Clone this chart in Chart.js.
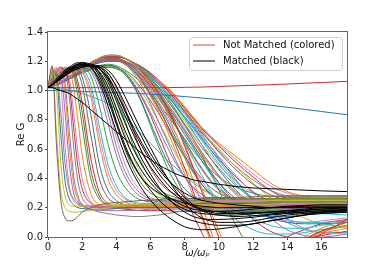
<!DOCTYPE html>
<html>
<head>
<meta charset="utf-8">
<script src="https://cdn.jsdelivr.net/npm/chart.js@4.4.0/dist/chart.umd.min.js"></script>
<style>
  html, body { margin: 0; padding: 0; background: #fff; }
</style>
</head>
<body>
<canvas id="chart" width="386" height="267"></canvas>
<script>
// sample positions (omega / omega_p) shared by every curve
const xGrid = [0,0.25,0.5,0.75,1,1.25,1.5,1.75,2,2.5,3,3.5,4,4.5,5,5.5,6,6.5,7,7.5,8,8.5,9,9.5,10,11,12,13,14,15,16,17.5];
const xTicks = [0,2,4,6,8,10,12,14,16];
const yTicks = [0,0.2,0.4,0.6,0.8,1.0,1.2,1.4];
const legendLabels = ['Not Matched (colored)', 'Matched (black)'];

// not matched, early drop
const earlyCurves = [
  [1.02,1.17,0.62,0.25,0.13,0.11,0.115,0.14,0.17,0.2,0.22,0.23,0.235, 0.24,0.245,0.25,0.25,0.255,0.26,0.26,0.26,0.265,0.265,0.27,0.27,0.27,0.275,0.275,0.28,0.28,0.28,0.28],
  [1.02,1.16,0.7,0.32,0.2,0.175,0.17,0.17,0.175,0.18,0.19,0.2,0.21, 0.21,0.22,0.22,0.22,0.23,0.23,0.23,0.23,0.23,0.24,0.24,0.24,0.24,0.24,0.25,0.25,0.25,0.25,0.25],
  [1.02,1.14,1.0,0.5,0.28,0.22,0.21,0.21,0.21,0.215,0.22,0.22,0.22, 0.22,0.22,0.22,0.22,0.22,0.22,0.22,0.22,0.22,0.22,0.22,0.22,0.22,0.225,0.225,0.23,0.23,0.23,0.23],
  [1.02,1.14,1.12,0.85,0.5,0.32,0.26,0.23,0.21,0.19,0.17,0.16,0.15, 0.145,0.14,0.14,0.145,0.15,0.16,0.17,0.18,0.185,0.19,0.195,0.2,0.205,0.21,0.21,0.215,0.215,0.22,0.22],
  [1.02,1.13,1.1,0.7,0.38,0.26,0.22,0.2,0.195,0.19,0.19,0.19,0.195, 0.2,0.2,0.2,0.2,0.2,0.2,0.2,0.2,0.2,0.2,0.2,0.2,0.2,0.2,0.2,0.2,0.2,0.2,0.2],
  [1.02,1.12,1.16,1.05,0.62,0.35,0.25,0.22,0.21,0.21,0.21,0.21,0.215, 0.22,0.22,0.225,0.23,0.23,0.235,0.24,0.24,0.24,0.245,0.245,0.25,0.25,0.25,0.25,0.25,0.25,0.25,0.25],
  [1.02,1.1,1.15,1.12,0.85,0.5,0.3,0.24,0.22,0.21,0.2,0.2,0.2, 0.2,0.2,0.2,0.2,0.2,0.2,0.2,0.2,0.2,0.2,0.2,0.2,0.2,0.2,0.2,0.2,0.2,0.2,0.2],
  [1.02,1.09,1.14,1.15,0.98,0.62,0.36,0.26,0.22,0.2,0.2,0.2,0.2, 0.2,0.21,0.21,0.21,0.21,0.21,0.21,0.21,0.21,0.21,0.21,0.21,0.21,0.21,0.21,0.21,0.21,0.21,0.21],
  [1.02,1.09,1.14,1.16,1.05,0.72,0.42,0.28,0.22,0.19,0.18,0.18,0.18, 0.18,0.18,0.185,0.19,0.19,0.19,0.19,0.19,0.19,0.19,0.19,0.19,0.19,0.19,0.19,0.19,0.19,0.19,0.19],
  [1.02,1.08,1.13,1.16,1.13,0.95,0.62,0.38,0.27,0.21,0.2,0.2,0.2, 0.205,0.21,0.215,0.22,0.22,0.225,0.23,0.23,0.23,0.235,0.235,0.24,0.24,0.24,0.24,0.24,0.24,0.24,0.24],
  [1.02,1.07,1.12,1.15,1.14,1.03,0.75,0.48,0.33,0.23,0.21,0.21,0.21, 0.21,0.215,0.22,0.22,0.22,0.225,0.225,0.23,0.23,0.23,0.23,0.23,0.23,0.23,0.23,0.23,0.23,0.23,0.23],
  [1.02,1.07,1.12,1.15,1.15,1.08,0.85,0.58,0.4,0.24,0.21,0.21,0.21, 0.21,0.21,0.21,0.215,0.22,0.22,0.22,0.22,0.22,0.22,0.22,0.22,0.22,0.22,0.22,0.22,0.22,0.22,0.22],
  [1.02,1.07,1.11,1.14,1.16,1.14,1.02,0.8,0.56,0.3,0.22,0.2,0.195, 0.195,0.2,0.2,0.2,0.205,0.21,0.21,0.21,0.21,0.21,0.21,0.21,0.21,0.21,0.21,0.21,0.21,0.21,0.21],
  [1.02,1.06,1.1,1.13,1.15,1.15,1.1,0.96,0.76,0.4,0.26,0.22,0.21, 0.21,0.21,0.21,0.22,0.22,0.22,0.225,0.23,0.23,0.23,0.23,0.23,0.235,0.235,0.24,0.24,0.24,0.24,0.24],
  [1.02,1.06,1.1,1.13,1.15,1.16,1.12,1.02,0.85,0.46,0.28,0.22,0.2, 0.2,0.2,0.2,0.2,0.2,0.2,0.2,0.2,0.2,0.2,0.2,0.2,0.2,0.2,0.2,0.2,0.2,0.2,0.2],
  [1.02,1.06,1.1,1.13,1.15,1.16,1.14,1.06,0.92,0.54,0.31,0.23,0.2, 0.19,0.185,0.18,0.18,0.18,0.18,0.175,0.175,0.175,0.175,0.175,0.175,0.175,0.175,0.175,0.175,0.175,0.175,0.175],
  [1.02,1.06,1.09,1.12,1.14,1.15,1.15,1.12,1.04,0.7,0.4,0.27,0.23, 0.22,0.22,0.22,0.22,0.22,0.22,0.22,0.22,0.22,0.22,0.22,0.22,0.22,0.22,0.22,0.22,0.22,0.22,0.22],
  [1.02,1.05,1.09,1.12,1.14,1.15,1.16,1.14,1.09,0.84,0.5,0.32,0.25, 0.22,0.21,0.21,0.21,0.21,0.21,0.21,0.21,0.21,0.21,0.21,0.21,0.21,0.21,0.21,0.21,0.21,0.21,0.21],
  [1.02,1.05,1.08,1.11,1.13,1.15,1.16,1.16,1.13,0.96,0.64,0.4,0.29, 0.24,0.22,0.21,0.21,0.21,0.21,0.21,0.215,0.22,0.22,0.22,0.22,0.22,0.22,0.22,0.22,0.22,0.22,0.22],
  [1.02,1.05,1.08,1.11,1.13,1.14,1.15,1.16,1.14,1.0,0.7,0.45,0.32, 0.26,0.23,0.22,0.22,0.22,0.22,0.22,0.22,0.22,0.22,0.22,0.22,0.22,0.22,0.22,0.22,0.22,0.22,0.22],
  [1.02,1.05,1.08,1.1,1.12,1.14,1.15,1.16,1.15,1.04,0.76,0.5,0.35, 0.27,0.24,0.23,0.23,0.23,0.23,0.23,0.23,0.23,0.23,0.23,0.23,0.23,0.23,0.23,0.23,0.23,0.23,0.23],
  [1.02,1.05,1.08,1.1,1.12,1.14,1.15,1.16,1.16,1.1,0.9,0.64,0.45, 0.34,0.28,0.25,0.24,0.23,0.23,0.23,0.23,0.23,0.23,0.23,0.23,0.23,0.23,0.23,0.23,0.23,0.23,0.23],
  [1.02,1.04,1.07,1.1,1.12,1.13,1.15,1.16,1.16,1.13,1.0,0.78,0.56, 0.41,0.32,0.27,0.25,0.24,0.24,0.24,0.24,0.24,0.24,0.24,0.24,0.24,0.24,0.24,0.24,0.24,0.24,0.24],
  [1.02,1.04,1.07,1.09,1.11,1.13,1.14,1.15,1.16,1.14,1.04,0.85,0.62, 0.45,0.35,0.29,0.26,0.25,0.25,0.25,0.25,0.25,0.25,0.25,0.25,0.25,0.25,0.25,0.25,0.25,0.25,0.25],
  [1.02,1.04,1.07,1.09,1.11,1.13,1.14,1.15,1.16,1.15,1.07,0.9,0.68, 0.5,0.38,0.31,0.27,0.25,0.24,0.23,0.23,0.23,0.23,0.23,0.23,0.23,0.23,0.23,0.23,0.23,0.23,0.23],
  [1.02,1.04,1.07,1.09,1.11,1.13,1.14,1.15,1.16,1.16,1.11,0.98,0.79, 0.6,0.46,0.36,0.3,0.27,0.26,0.25,0.25,0.25,0.25,0.25,0.25,0.25,0.25,0.25,0.25,0.25,0.25,0.25],
  [1.02,1.04,1.06,1.09,1.11,1.12,1.14,1.15,1.16,1.16,1.13,1.04,0.88, 0.7,0.54,0.42,0.34,0.29,0.26,0.25,0.24,0.24,0.24,0.24,0.24,0.24,0.24,0.24,0.24,0.24,0.24,0.24],
  [1.02,1.04,1.06,1.08,1.1,1.12,1.13,1.14,1.15,1.16,1.15,1.08,0.95, 0.8,0.62,0.5,0.4,0.33,0.29,0.27,0.26,0.26,0.26,0.26,0.26,0.26,0.26,0.26,0.26,0.26,0.26,0.26],
  [1.02,1.04,1.06,1.08,1.1,1.12,1.13,1.14,1.15,1.16,1.16,1.12,1.02, 0.88,0.72,0.58,0.47,0.38,0.32,0.29,0.27,0.26,0.26,0.26,0.26,0.26,0.26,0.26,0.26,0.26,0.26,0.26]
];
const earlyColors = ['#8c564b','#bcbd22','#bcbd22','#7f7f7f','#1f77b4','#e377c2','#9467bd','#ff7f0e','#9467bd','#7f7f7f','#d62728','#e377c2','#ff7f0e','#2ca02c','#8c564b','#d62728','#8c564b','#1f77b4','#ff7f0e','#e377c2','#17becf','#2ca02c','#9467bd','#7f7f7f','#e377c2','#2ca02c','#bcbd22','#2ca02c','#d62728'];

// not matched, late drop
const lateCurves = [
  [1.02,1.03,1.04,1.05,1.07,1.08,1.1,1.11,1.13,1.15,1.17,1.17,1.16, 1.12,1.04,0.92,0.78,0.64,0.51,0.41,0.33,0.28,0.25,0.23,0.22,0.21,0.21,0.21,0.21,0.21,0.21,0.21],
  [1.02,1.03,1.04,1.05,1.06,1.08,1.09,1.11,1.12,1.14,1.16,1.16,1.15, 1.11,1.03,0.91,0.76,0.61,0.47,0.36,0.28,0.23,0.2,0.19,0.18,0.18,0.18,0.18,0.18,0.18,0.18,0.18],
  [1.02,1.03,1.04,1.06,1.07,1.09,1.1,1.12,1.14,1.17,1.2,1.21,1.21, 1.18,1.12,1.03,0.91,0.78,0.65,0.52,0.41,0.33,0.27,0.24,0.23,0.23,0.24,0.24,0.25,0.25,0.25,0.25],
  [1.02,1.03,1.04,1.06,1.07,1.09,1.1,1.12,1.14,1.17,1.2,1.21,1.21, 1.19,1.14,1.07,0.98,0.88,0.76,0.62,0.47,0.31,0.15,0.0,-0.13,-0.3,-0.3,-0.2,-0.1,-0.02,0.04,0.1],
  [1.02,1.03,1.05,1.06,1.08,1.1,1.11,1.13,1.15,1.19,1.22,1.24,1.24, 1.22,1.18,1.12,1.04,0.95,0.84,0.7,0.55,0.39,0.22,0.05,-0.1,-0.3,-0.35,-0.25,-0.12,-0.03,0.03,0.08],
  [1.02,1.03,1.05,1.06,1.08,1.1,1.11,1.13,1.15,1.19,1.22,1.23,1.23, 1.22,1.18,1.13,1.06,0.98,0.88,0.76,0.62,0.47,0.31,0.15,0.0,-0.25,-0.35,-0.3,-0.15,-0.05,0.02,0.12],
  [1.02,1.03,1.04,1.06,1.07,1.09,1.1,1.12,1.14,1.17,1.2,1.21,1.21, 1.19,1.15,1.09,1.01,0.92,0.81,0.7,0.58,0.47,0.38,0.31,0.26,0.2,0.17,0.16,0.16,0.17,0.18,0.19],
  [1.02,1.03,1.04,1.05,1.07,1.09,1.1,1.12,1.14,1.17,1.2,1.22,1.22, 1.2,1.16,1.1,1.03,0.95,0.86,0.76,0.66,0.56,0.47,0.39,0.33,0.25,0.21,0.2,0.2,0.2,0.2,0.2],
  [1.02,1.03,1.05,1.06,1.08,1.1,1.11,1.13,1.15,1.19,1.22,1.24,1.24, 1.22,1.18,1.13,1.07,0.99,0.91,0.82,0.72,0.62,0.52,0.43,0.35,0.22,0.13,0.08,0.06,0.06,0.08,0.1],
  [1.02,1.03,1.04,1.05,1.07,1.08,1.1,1.11,1.13,1.15,1.16,1.16,1.15, 1.13,1.07,0.99,0.89,0.78,0.67,0.56,0.47,0.39,0.33,0.29,0.27,0.26,0.26,0.26,0.26,0.26,0.26,0.26],
  [1.02,1.03,1.04,1.06,1.07,1.09,1.1,1.12,1.14,1.17,1.19,1.2,1.2, 1.19,1.15,1.1,1.03,0.96,0.88,0.79,0.7,0.61,0.52,0.44,0.37,0.26,0.18,0.13,0.1,0.09,0.09,0.1],
  [1.02,1.03,1.05,1.06,1.08,1.1,1.11,1.13,1.15,1.19,1.22,1.23,1.23, 1.22,1.19,1.14,1.08,1.01,0.93,0.85,0.76,0.67,0.58,0.5,0.42,0.3,0.22,0.18,0.16,0.16,0.17,0.18],
  [1.02,1.03,1.04,1.06,1.07,1.09,1.1,1.12,1.14,1.17,1.2,1.21,1.22, 1.2,1.16,1.11,1.05,0.98,0.9,0.82,0.73,0.65,0.57,0.49,0.42,0.31,0.24,0.21,0.2,0.2,0.21,0.22],
  [1.02,1.03,1.05,1.06,1.08,1.1,1.11,1.13,1.15,1.19,1.22,1.24,1.24, 1.22,1.19,1.15,1.09,1.02,0.95,0.86,0.77,0.67,0.56,0.44,0.32,0.08,-0.1,-0.15,-0.1,-0.02,0.04,0.08],
  [1.02,1.03,1.04,1.06,1.07,1.09,1.1,1.12,1.14,1.17,1.2,1.22,1.22, 1.2,1.17,1.12,1.06,1.0,0.93,0.85,0.77,0.69,0.61,0.54,0.47,0.35,0.27,0.23,0.22,0.22,0.22,0.23],
  [1.02,1.03,1.05,1.06,1.08,1.1,1.11,1.13,1.15,1.19,1.22,1.23,1.24, 1.22,1.19,1.15,1.1,1.04,0.97,0.9,0.82,0.74,0.66,0.58,0.5,0.36,0.25,0.17,0.12,0.1,0.1,0.11],
  [1.02,1.03,1.04,1.05,1.07,1.08,1.1,1.11,1.13,1.15,1.17,1.18,1.17, 1.14,1.1,1.05,0.98,0.91,0.83,0.75,0.67,0.59,0.52,0.46,0.41,0.34,0.3,0.28,0.28,0.28,0.28,0.28],
  [1.02,1.03,1.05,1.06,1.08,1.1,1.11,1.13,1.15,1.19,1.22,1.24,1.24, 1.22,1.19,1.15,1.1,1.05,0.99,0.92,0.85,0.77,0.69,0.62,0.55,0.42,0.3,0.2,0.12,0.06,0.03,0.02],
  [1.02,1.03,1.04,1.06,1.07,1.09,1.1,1.12,1.14,1.17,1.2,1.21,1.21, 1.2,1.17,1.13,1.08,1.02,0.96,0.89,0.82,0.75,0.67,0.6,0.53,0.41,0.31,0.24,0.2,0.18,0.17,0.17],
  [1.02,1.03,1.05,1.06,1.08,1.1,1.11,1.13,1.15,1.18,1.21,1.23,1.23, 1.22,1.19,1.16,1.11,1.05,1.0,0.93,0.86,0.79,0.72,0.65,0.58,0.46,0.36,0.29,0.25,0.24,0.24,0.24],
  [1.02,1.03,1.05,1.06,1.08,1.1,1.11,1.13,1.15,1.19,1.22,1.24,1.24, 1.22,1.19,1.16,1.11,1.06,1.0,0.94,0.87,0.8,0.73,0.66,0.6,0.48,0.37,0.27,0.19,0.13,0.09,0.07],
  [1.02,1.03,1.04,1.06,1.07,1.09,1.1,1.12,1.14,1.17,1.2,1.21,1.21, 1.2,1.17,1.14,1.09,1.04,0.98,0.92,0.85,0.78,0.71,0.65,0.59,0.48,0.39,0.32,0.28,0.26,0.26,0.26],
  [1.02,1.03,1.05,1.06,1.08,1.1,1.11,1.13,1.15,1.19,1.22,1.24,1.24, 1.22,1.19,1.16,1.12,1.06,1.01,0.95,0.88,0.81,0.74,0.68,0.62,0.51,0.41,0.32,0.26,0.22,0.2,0.2],
  [1.02,1.03,1.05,1.06,1.08,1.1,1.11,1.13,1.15,1.19,1.22,1.24,1.24, 1.22,1.19,1.16,1.12,1.07,1.01,0.95,0.88,0.81,0.75,0.69,0.63,0.53,0.43,0.35,0.3,0.28,0.28,0.28],
  [1.02,1.03,1.05,1.06,1.08,1.1,1.11,1.13,1.15,1.19,1.22,1.24,1.24, 1.22,1.19,1.16,1.12,1.07,1.02,0.96,0.89,0.82,0.75,0.69,0.64,0.55,0.46,0.37,0.31,0.28,0.27,0.27],
  [1.02,1.03,1.04,1.06,1.07,1.09,1.1,1.12,1.14,1.17,1.2,1.21,1.21, 1.19,1.14,1.06,0.96,0.85,0.72,0.58,0.43,0.28,0.13,-0.02,-0.15,-0.3,-0.3,-0.22,-0.1,0.0,0.06,0.12],
  [1.02,1.03,1.04,1.05,1.07,1.08,1.1,1.11,1.13,1.15,1.17,1.17,1.16, 1.12,1.05,0.96,0.85,0.73,0.61,0.5,0.41,0.34,0.29,0.26,0.25,0.25,0.26,0.26,0.27,0.27,0.27,0.27],
  [1.02,1.03,1.04,1.06,1.07,1.09,1.1,1.12,1.14,1.17,1.2,1.21,1.21, 1.19,1.15,1.08,1.0,0.9,0.79,0.67,0.56,0.45,0.36,0.29,0.24,0.18,0.15,0.14,0.14,0.15,0.16,0.17],
  [1.02,1.03,1.05,1.06,1.08,1.1,1.11,1.13,1.15,1.19,1.22,1.23,1.23, 1.22,1.18,1.13,1.06,0.97,0.87,0.76,0.64,0.53,0.42,0.32,0.24,0.12,0.05,0.02,0.02,0.03,0.05,0.07],
  [1.02,1.03,1.04,1.06,1.07,1.09,1.1,1.12,1.14,1.17,1.2,1.22,1.22, 1.2,1.16,1.11,1.04,0.97,0.89,0.81,0.72,0.63,0.54,0.45,0.37,0.23,0.12,0.04,0.0,-0.01,0.01,0.04],
  [1.02,1.03,1.04,1.06,1.07,1.09,1.1,1.12,1.14,1.17,1.19,1.2,1.2, 1.18,1.13,1.06,0.97,0.87,0.76,0.65,0.54,0.44,0.36,0.3,0.26,0.22,0.21,0.21,0.22,0.23,0.24,0.25],
  [1.02,1.03,1.05,1.06,1.08,1.1,1.11,1.13,1.15,1.18,1.21,1.23,1.23, 1.22,1.19,1.14,1.07,0.99,0.89,0.77,0.63,0.48,0.33,0.18,0.04,-0.2,-0.3,-0.25,-0.12,-0.04,0.02,0.06],
  [1.02,1.03,1.04,1.05,1.06,1.08,1.09,1.11,1.12,1.14,1.16,1.16,1.15, 1.13,1.08,1.01,0.93,0.84,0.74,0.64,0.55,0.47,0.4,0.34,0.3,0.25,0.23,0.22,0.22,0.22,0.22,0.22],
  [1.02,1.03,1.04,1.06,1.07,1.09,1.1,1.12,1.14,1.17,1.2,1.22,1.22, 1.2,1.17,1.12,1.06,0.99,0.91,0.83,0.74,0.65,0.56,0.48,0.41,0.29,0.2,0.14,0.11,0.1,0.11,0.13],
  [1.02,1.03,1.05,1.06,1.08,1.1,1.11,1.13,1.15,1.19,1.22,1.24,1.24, 1.22,1.19,1.15,1.1,1.04,0.98,0.91,0.84,0.76,0.68,0.6,0.52,0.38,0.26,0.17,0.1,0.05,0.03,0.03],
  [1.02,1.03,1.04,1.06,1.07,1.09,1.1,1.12,1.14,1.17,1.2,1.21,1.21, 1.2,1.17,1.13,1.07,1.01,0.94,0.87,0.79,0.71,0.63,0.56,0.49,0.38,0.3,0.25,0.23,0.23,0.24,0.25],
  [1.02,1.03,1.05,1.06,1.08,1.1,1.11,1.13,1.15,1.19,1.22,1.23,1.24, 1.22,1.19,1.16,1.11,1.06,1.0,0.93,0.86,0.78,0.7,0.62,0.54,0.39,0.25,0.13,0.05,0.01,0.0,0.02],
  [1.02,1.03,1.04,1.05,1.07,1.08,1.1,1.11,1.13,1.15,1.17,1.17,1.16, 1.12,1.05,0.95,0.83,0.69,0.55,0.41,0.28,0.15,0.03,-0.08,-0.15,-0.2,-0.15,-0.08,0.0,0.05,0.09,0.12],
  [1.02,1.03,1.04,1.06,1.07,1.09,1.1,1.12,1.14,1.17,1.2,1.21,1.21, 1.19,1.15,1.09,1.02,0.94,0.85,0.75,0.65,0.55,0.46,0.38,0.32,0.24,0.2,0.19,0.19,0.2,0.21,0.22],
  [1.02,1.03,1.05,1.06,1.08,1.1,1.11,1.13,1.15,1.19,1.22,1.24,1.24, 1.22,1.19,1.15,1.1,1.04,0.97,0.89,0.81,0.72,0.63,0.54,0.46,0.32,0.22,0.16,0.14,0.15,0.17,0.19]
];
const lateColors = ['#1f77b4','#2ca02c','#9467bd','#d62728','#ff7f0e','#d62728','#e377c2','#8c564b','#17becf','#bcbd22','#1f77b4','#7f7f7f','#ff7f0e','#2ca02c','#9467bd','#17becf','#2ca02c','#e377c2','#1f77b4','#8c564b','#bcbd22','#7f7f7f','#d62728','#e377c2','#ff7f0e','#ff7f0e','#9467bd','#1f77b4','#17becf','#d62728','#2ca02c','#ff7f0e','#8c564b','#e377c2','#17becf','#bcbd22','#9467bd','#d62728','#7f7f7f','#1f77b4'];

// not matched, nearly flat ones
const redFlat  = [1.02,1.02,1.02,1.02,1.02,1.02,1.02,1.02,1.02,1.02,1.02,1.02,1.02, 1.02,1.02,1.02,1.02,1.02,1.02,1.021,1.022,1.023,1.024,1.026,1.028,1.032,1.036,1.04,1.045,1.05,1.055,1.063];
const blueSlow = [1.0,1.0,1.0,1.0,0.998,0.997,0.996,0.995,0.994,0.992,0.99,0.988,0.986, 0.984,0.982,0.979,0.976,0.972,0.968,0.964,0.959,0.954,0.949,0.944,0.939,0.927,0.914,0.9,0.886,0.872,0.857,0.835];
const cyanSlow = [1.02,1.02,1.02,1.01,1.01,1.0,1.0,0.99,0.98,0.96,0.94,0.91,0.87, 0.82,0.76,0.7,0.64,0.58,0.52,0.47,0.42,0.37,0.33,0.3,0.27,0.23,0.2,0.18,0.17,0.16,0.16,0.15];

// matched
const blackCurves = [
  [1.02,1.02,1.01,1.0,0.99,0.98,0.96,0.94,0.92,0.87,0.82,0.77,0.72, 0.67,0.62,0.57,0.53,0.49,0.46,0.43,0.41,0.39,0.38,0.37,0.36,0.345,0.335,0.33,0.325,0.32,0.315,0.31],
  [1.02,1.04,1.07,1.1,1.13,1.15,1.17,1.18,1.19,1.16,1.06,0.9,0.72, 0.56,0.43,0.33,0.25,0.19,0.14,0.1,0.07,0.055,0.05,0.05,0.055,0.07,0.09,0.11,0.13,0.15,0.16,0.17],
  [1.02,1.04,1.07,1.1,1.12,1.14,1.16,1.18,1.18,1.17,1.1,0.96,0.79, 0.63,0.5,0.4,0.32,0.25,0.2,0.16,0.13,0.11,0.095,0.085,0.08,0.08,0.09,0.11,0.13,0.15,0.17,0.19],
  [1.02,1.04,1.06,1.09,1.12,1.14,1.16,1.17,1.18,1.17,1.12,1.0,0.84, 0.68,0.55,0.45,0.37,0.31,0.26,0.22,0.19,0.17,0.16,0.155,0.15,0.15,0.16,0.17,0.18,0.19,0.2,0.2],
  [1.02,1.04,1.07,1.1,1.13,1.15,1.17,1.18,1.19,1.18,1.13,1.03,0.88, 0.73,0.6,0.49,0.4,0.33,0.28,0.24,0.21,0.19,0.18,0.175,0.175,0.18,0.19,0.2,0.21,0.215,0.22,0.22],
  [1.02,1.04,1.06,1.09,1.12,1.14,1.16,1.17,1.18,1.18,1.15,1.06,0.93, 0.78,0.65,0.53,0.43,0.34,0.27,0.21,0.17,0.14,0.125,0.12,0.12,0.125,0.135,0.15,0.16,0.17,0.18,0.18],
  [1.02,1.04,1.06,1.09,1.11,1.13,1.15,1.16,1.17,1.17,1.15,1.08,0.96, 0.83,0.7,0.58,0.48,0.4,0.33,0.28,0.24,0.21,0.19,0.18,0.17,0.165,0.165,0.165,0.165,0.17,0.17,0.17],
  [1.02,1.04,1.06,1.08,1.11,1.13,1.15,1.16,1.17,1.17,1.16,1.1,0.99, 0.86,0.73,0.62,0.52,0.43,0.36,0.3,0.25,0.21,0.18,0.16,0.15,0.14,0.145,0.155,0.17,0.18,0.19,0.2],
  [1.02,1.04,1.06,1.08,1.1,1.12,1.14,1.15,1.16,1.17,1.16,1.12,1.03, 0.91,0.79,0.68,0.57,0.48,0.4,0.33,0.27,0.22,0.19,0.17,0.16,0.16,0.165,0.17,0.18,0.185,0.19,0.19],
  [1.02,1.04,1.06,1.08,1.1,1.12,1.14,1.15,1.16,1.17,1.17,1.14,1.07, 0.96,0.84,0.72,0.61,0.5,0.4,0.31,0.23,0.17,0.13,0.11,0.1,0.1,0.11,0.13,0.15,0.16,0.17,0.18],
  [1.02,1.05,1.08,1.11,1.14,1.16,1.18,1.19,1.19,1.16,1.08,0.94,0.77, 0.61,0.49,0.4,0.34,0.3,0.27,0.25,0.23,0.22,0.21,0.205,0.2,0.2,0.2,0.2,0.205,0.21,0.21,0.21],
  [1.02,1.04,1.06,1.08,1.11,1.13,1.15,1.16,1.17,1.17,1.15,1.09,0.99, 0.87,0.75,0.64,0.54,0.46,0.39,0.34,0.3,0.27,0.25,0.24,0.23,0.22,0.21,0.2,0.2,0.2,0.2,0.2]
];

function toPoints(values) {
  return values.slice(0, xGrid.length).map((v, i) => ({ x: xGrid[i], y: v }));
}

function lineSet(values, color, width, order) {
  return {
    data: toPoints(values),
    borderColor: color,
    borderWidth: width,
    pointRadius: 0,
    fill: false,
    order: order
  };
}

const datasets = [];
earlyCurves.forEach((c, i) => datasets.push(lineSet(c, earlyColors[i % earlyColors.length], 1, 2)));
lateCurves.forEach((c, i) => datasets.push(lineSet(c, lateColors[i % lateColors.length], 1, 2)));
datasets.push(lineSet(cyanSlow, '#17becf', 1, 2));
datasets.push(lineSet(blueSlow, '#1f77b4', 1, 1));
datasets.push(lineSet(redFlat, '#d62728', 1, 1));
blackCurves.forEach(c => datasets.push(lineSet(c, '#000000', 1, 0)));

const frameAndLegend = {
  id: 'frameAndLegend',
  afterDatasetsDraw(chart) {
    const { ctx, chartArea: a } = chart;
    ctx.save();
    ctx.strokeStyle = '#666';
    ctx.lineWidth = 1;
    ctx.strokeRect(Math.round(a.left) - 0.5, Math.round(a.top) - 0.5,
      Math.round(a.right) - Math.round(a.left) + 1, Math.round(a.bottom) - Math.round(a.top) + 1);
    ctx.restore();
  },
  afterDraw(chart) {
    const { ctx, chartArea: a } = chart;
    const w = 153, h = 33;
    const x0 = a.right - 5 - w, y0 = a.top + 5;
    ctx.save();
    ctx.beginPath();
    ctx.roundRect(x0 + 0.5, y0 + 0.5, w, h, 3);
    ctx.fillStyle = 'rgba(255,255,255,0.8)';
    ctx.fill();
    ctx.strokeStyle = '#d0d0d0';
    ctx.lineWidth = 1;
    ctx.stroke();
    const colors = ['#e0403a', '#000000'];
    ctx.font = '10px "DejaVu Sans"';
    ctx.textBaseline = 'middle';
    ctx.fillStyle = '#111';
    legendLabels.forEach((t, i) => {
      const yy = y0 + 8 + i * 16;
      ctx.beginPath();
      ctx.moveTo(x0 + 4, yy);
      ctx.lineTo(x0 + 26, yy);
      ctx.strokeStyle = colors[i];
      ctx.lineWidth = 1;
      ctx.stroke();
      ctx.fillText(t, x0 + 34, yy);
    });
    ctx.restore();
  }
};

const tickFont = { family: 'DejaVu Sans', size: 10 };

new Chart(document.getElementById('chart'), {
  type: 'line',
  data: { datasets: datasets },
  options: {
    responsive: false,
    animation: false,
    devicePixelRatio: 1,
    layout: { padding: { top: 32, right: 39, left: 0, bottom: 0 } },
    plugins: { legend: { display: false }, tooltip: { enabled: false } },
    elements: { point: { radius: 0 }, line: { cubicInterpolationMode: 'monotone' } },
    scales: {
      x: {
        type: 'linear',
        min: 0,
        max: 17.5,
        afterFit(s) { s.height = 30; },
        afterBuildTicks(s) { s.ticks = xTicks.map(v => ({ value: v })); },
        ticks: { font: tickFont, color: '#222', padding: 1, maxRotation: 0, autoSkip: false },
        grid: { drawOnChartArea: false, tickLength: 3, color: '#444' },
        border: { display: false },
        title: { display: true, text: 'ω/ωₚ', font: { family: 'DejaVu Sans', size: 10, style: 'italic' }, color: '#222', padding: { top: 0, bottom: 8 } }
      },
      y: {
        min: 0,
        max: 1.4,
        afterFit(s) { s.width = 48; },
        afterBuildTicks(s) { s.ticks = yTicks.map(v => ({ value: v })); },
        ticks: { font: tickFont, color: '#222', padding: 2, callback: v => v.toFixed(1) },
        grid: { drawOnChartArea: false, tickLength: 3, color: '#444' },
        border: { display: false },
        title: { display: true, text: 'Re G', font: { family: 'DejaVu Sans', size: 10 }, color: '#222', padding: { top: 15, bottom: 0 } }
      }
    }
  },
  plugins: [frameAndLegend]
});
</script>
</body>
</html>
